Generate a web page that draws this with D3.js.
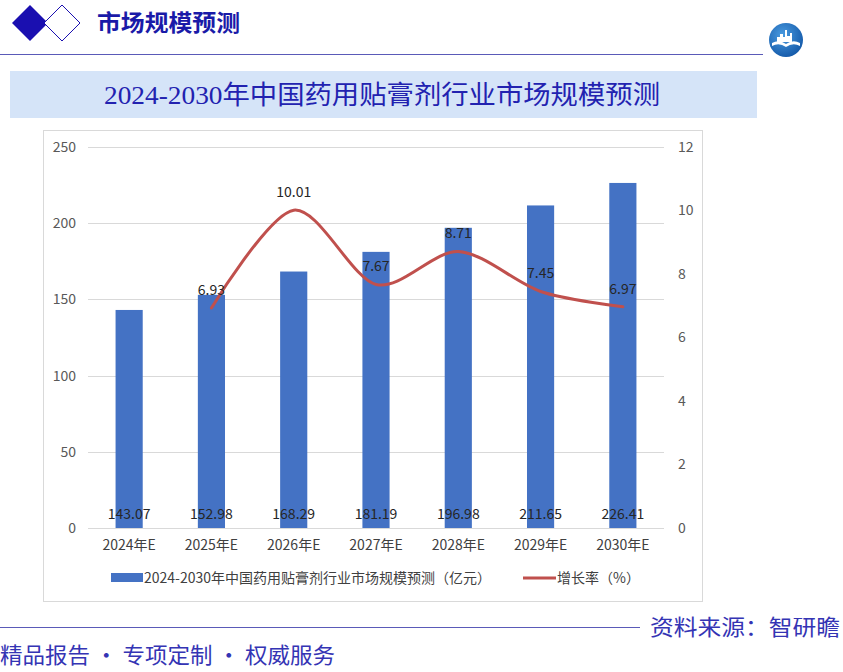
<!DOCTYPE html>
<html>
<head>
<meta charset="utf-8">
<script src="https://cdn.jsdelivr.net/npm/d3@7"></script>
<style>
  body { margin: 0; background: #fff; }
  svg { display: block; }
</style>
</head>
<body>
<svg id="chart" width="843" height="672"></svg>
<script>
// chart data
const years = ["2024年E", "2025年E", "2026年E", "2027年E", "2028年E", "2029年E", "2030年E"];
const marketSize = [143.07, 152.98, 168.29, 181.19, 196.98, 211.65, 226.41];
const growth = [null, 6.93, 10.01, 7.67, 8.71, 7.45, 6.97];
const leftTicks = [0, 50, 100, 150, 200, 250];
const rightTicks = [0, 2, 4, 6, 8, 10, 12];

const svg = d3.select("#chart");
const cjk = "'Noto Sans CJK SC', sans-serif";
const serif = "'Liberation Serif', 'Noto Sans CJK SC', serif";
const navy = "#2222b0";

// header: two diamonds + title
svg.append("path")
  .attr("d", "M30,5 L48,23 L30,41 L12,23 Z")
  .attr("fill", "#1a0fb0");
svg.append("path")
  .attr("d", "M62,5 L80,23 L62,41 L44,23 Z")
  .attr("fill", "#fff").attr("stroke", "#1a0fb0").attr("stroke-width", 1);
svg.append("text")
  .attr("x", 97).attr("y", 31)
  .attr("font-family", cjk).attr("font-size", 23).attr("font-weight", "bold")
  .attr("fill", "#1a1aa8")
  .attr("textLength", 143).attr("lengthAdjust", "spacingAndGlyphs")
  .text("市场规模预测");
svg.append("line")
  .attr("x1", 0).attr("x2", 763).attr("y1", 54.5).attr("y2", 54.5)
  .attr("stroke", "#5a5ab8").attr("stroke-width", 1);

// logo
const grad = svg.append("defs").append("radialGradient")
  .attr("id", "lg").attr("cx", "40%").attr("cy", "35%").attr("r", "70%");
grad.append("stop").attr("offset", "0%").attr("stop-color", "#4a9be0");
grad.append("stop").attr("offset", "100%").attr("stop-color", "#1358a8");
const logo = svg.append("g").attr("transform", "translate(786,40)");
logo.append("circle").attr("r", 17).attr("fill", "url(#lg)");
logo.append("path")
  .attr("d", "M-9,2 L-9,-3 L-6,-3 L-6,-6 L-3,-6 L-3,-3 L-1,-3 L-1,-10 L1,-10 L1,-4 L4,-4 L4,-7 L6,-7 L6,2 Z")
  .attr("fill", "#fff");
logo.append("path")
  .attr("d", "M-14,3 Q-7,-1 0,4 Q7,-1 14,3 L14,6 Q7,2 0,7 Q-7,2 -14,6 Z")
  .attr("fill", "#fff");

// title box
svg.append("rect")
  .attr("x", 10).attr("y", 71).attr("width", 747).attr("height", 47)
  .attr("fill", "#d5e4f8");
svg.append("text")
  .attr("x", 104).attr("y", 104)
  .attr("font-family", serif).attr("font-size", 26)
  .attr("fill", navy)
  .attr("textLength", 556).attr("lengthAdjust", "spacingAndGlyphs")
  .text("2024-2030年中国药用贴膏剂行业市场规模预测");

// chart frame
svg.append("rect")
  .attr("x", 43.5).attr("y", 130.5).attr("width", 659).attr("height", 471)
  .attr("fill", "#fff").attr("stroke", "#d9d9d9");

const plot = { left: 88, right: 664, top: 147, bottom: 528 };

const x = d3.scaleBand()
  .domain(years)
  .range([plot.left, plot.right])
  .paddingInner(0.67).paddingOuter(0.335);
const yL = d3.scaleLinear().domain([0, 250]).range([plot.bottom, plot.top]);
const yR = d3.scaleLinear().domain([0, 12]).range([plot.bottom, plot.top]);

// gridlines
svg.append("g")
  .selectAll("line")
  .data(leftTicks)
  .join("line")
  .attr("x1", plot.left).attr("x2", plot.right)
  .attr("y1", d => Math.round(yL(d)) + 0.5).attr("y2", d => Math.round(yL(d)) + 0.5)
  .attr("stroke", "#d9d9d9");

// left axis
const axL = svg.append("g")
  .attr("transform", `translate(${plot.left - 12},0)`)
  .call(d3.axisLeft(yL).tickValues(leftTicks).tickSize(0).tickPadding(0));
axL.select(".domain").remove();
axL.selectAll("text")
  .attr("font-family", cjk).attr("font-size", 14).attr("fill", "#595959");

// right axis
const axR = svg.append("g")
  .attr("transform", `translate(${plot.right + 14},0)`)
  .call(d3.axisRight(yR).tickValues(rightTicks).tickSize(0).tickPadding(0));
axR.select(".domain").remove();
axR.selectAll("text")
  .attr("font-family", cjk).attr("font-size", 14).attr("fill", "#595959");

// bottom axis labels
const axB = svg.append("g")
  .attr("transform", `translate(0,${plot.bottom + 12})`)
  .call(d3.axisBottom(x).tickSize(0).tickPadding(0));
axB.select(".domain").remove();
axB.selectAll("text")
  .attr("font-family", cjk).attr("font-size", 14).attr("fill", "#404040");

// bars
svg.append("g")
  .selectAll("rect")
  .data(marketSize)
  .join("rect")
  .attr("x", (d, i) => x(years[i]))
  .attr("y", d => yL(d))
  .attr("width", x.bandwidth())
  .attr("height", d => plot.bottom - yL(d))
  .attr("fill", "#4472c4");

// bar labels
svg.append("g")
  .selectAll("text")
  .data(marketSize)
  .join("text")
  .attr("x", (d, i) => x(years[i]) + x.bandwidth() / 2)
  .attr("y", plot.bottom - 9)
  .attr("text-anchor", "middle")
  .attr("font-family", cjk).attr("font-size", 14).attr("fill", "#262626")
  .text(d => d.toFixed(2));

// growth line
const pts = growth
  .map((g, i) => ({ g, cat: years[i] }))
  .filter(p => p.g != null);
const line = d3.line()
  .x(p => x(p.cat) + x.bandwidth() / 2)
  .y(p => yR(p.g))
  .curve(d3.curveCardinal.tension(0.1));
svg.append("path")
  .datum(pts)
  .attr("d", line)
  .attr("fill", "none")
  .attr("stroke", "#c0504d")
  .attr("stroke-width", 3)
  .attr("stroke-linecap", "round");

svg.append("g")
  .selectAll("text")
  .data(pts)
  .join("text")
  .attr("x", p => x(p.cat) + x.bandwidth() / 2)
  .attr("y", p => yR(p.g) - 13)
  .attr("text-anchor", "middle")
  .attr("font-family", cjk).attr("font-size", 14).attr("fill", "#262626")
  .text(p => p.g.toFixed(2));

// legend
const leg = svg.append("g").attr("transform", "translate(0,578)");
leg.append("rect").attr("x", 111).attr("y", -5).attr("width", 32).attr("height", 9).attr("fill", "#4472c4");
leg.append("text").attr("x", 144).attr("y", 5)
  .attr("font-family", cjk).attr("font-size", 14).attr("fill", "#404040")
  .text("2024-2030年中国药用贴膏剂行业市场规模预测（亿元）");
leg.append("line").attr("x1", 523).attr("x2", 556).attr("y1", 0).attr("y2", 0)
  .attr("stroke", "#c0504d").attr("stroke-width", 3);
leg.append("text").attr("x", 557).attr("y", 5)
  .attr("font-family", cjk).attr("font-size", 14).attr("fill", "#404040")
  .text("增长率（%）");

// footer
svg.append("line")
  .attr("x1", 0).attr("x2", 640).attr("y1", 627.5).attr("y2", 627.5)
  .attr("stroke", "#5a5ab8");
svg.append("text")
  .attr("x", 650).attr("y", 635)
  .attr("font-family", cjk).attr("font-size", 22).attr("fill", "#3434b4")
  .attr("textLength", 190).attr("lengthAdjust", "spacingAndGlyphs")
  .text("资料来源：智研瞻");
svg.append("text")
  .attr("x", 0).attr("y", 663)
  .attr("font-family", cjk).attr("font-size", 22).attr("fill", "#3434b4")
  .attr("textLength", 335).attr("lengthAdjust", "spacingAndGlyphs")
  .text("精品报告 • 专项定制 • 权威服务");
</script>
</body>
</html>
